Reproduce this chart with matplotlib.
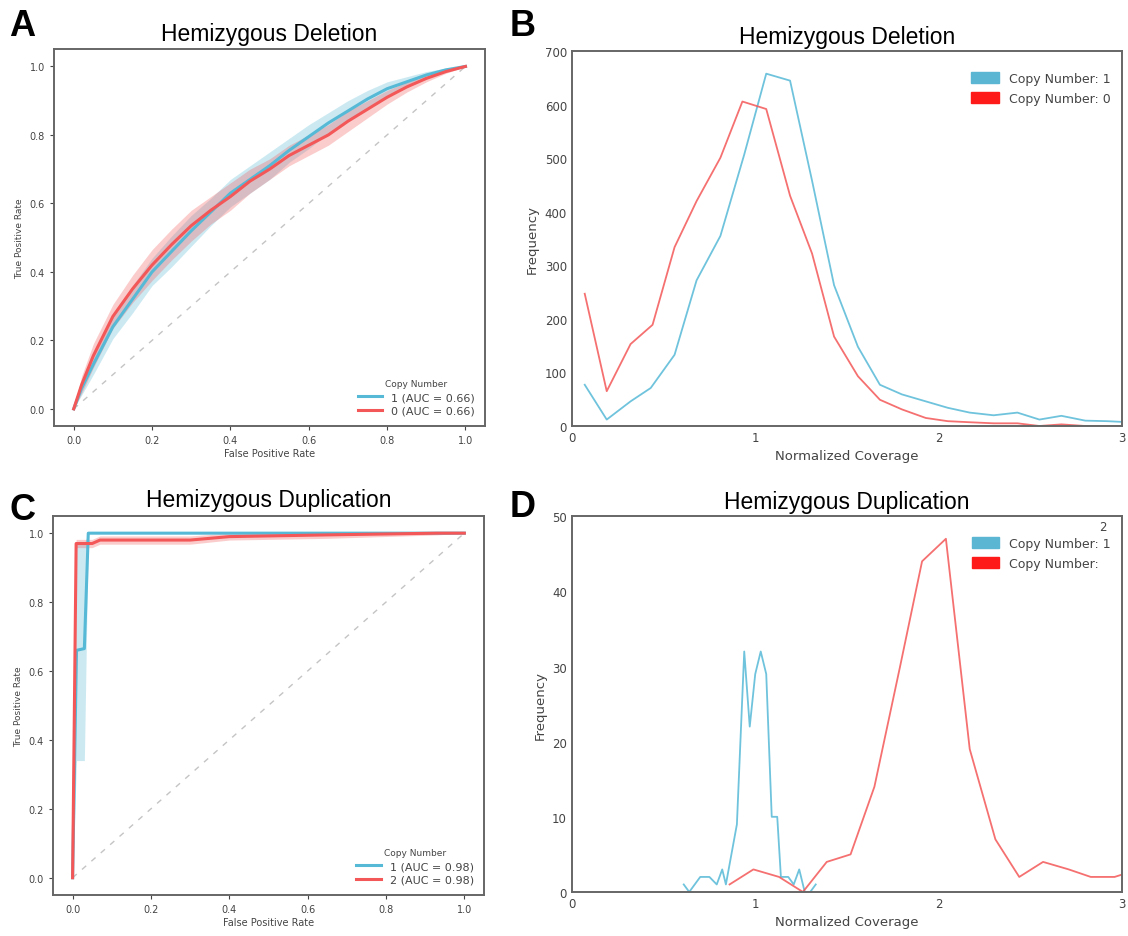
import matplotlib
matplotlib.use("Agg")
import matplotlib.pyplot as plt
from matplotlib.patches import Patch
import numpy as np

# ---- data ----
# Panel A: mean ROC curves (hemizygous deletion)
roc_a_fpr = [0, 0.02, 0.05, 0.1, 0.15, 0.2, 0.25, 0.3, 0.35, 0.4, 0.45, 0.5,
             0.55, 0.6, 0.65, 0.7, 0.75, 0.8, 0.85, 0.9, 0.95, 1.0]
roc_a_cn1 = [0, 0.06, 0.13, 0.24, 0.32, 0.40, 0.46, 0.52, 0.575, 0.63, 0.67, 0.71,
             0.755, 0.795, 0.835, 0.87, 0.905, 0.935, 0.955, 0.975, 0.99, 1.0]
roc_a_cn1_sd = [0, 0.02, 0.03, 0.035, 0.04, 0.04, 0.045, 0.045, 0.04, 0.04, 0.04,
                0.04, 0.035, 0.035, 0.03, 0.03, 0.025, 0.02, 0.015, 0.01, 0.005, 0]
roc_a_cn0 = [0, 0.07, 0.155, 0.27, 0.35, 0.42, 0.48, 0.535, 0.58, 0.62, 0.665, 0.70,
             0.74, 0.77, 0.80, 0.84, 0.875, 0.91, 0.94, 0.965, 0.985, 1.0]
roc_a_cn0_sd = [0, 0.025, 0.035, 0.035, 0.04, 0.045, 0.045, 0.045, 0.04, 0.04, 0.035,
                0.03, 0.03, 0.03, 0.03, 0.03, 0.025, 0.02, 0.015, 0.01, 0.005, 0]
auc_a = {"1": 0.66, "0": 0.66}

# Panel C: mean ROC curves (hemizygous duplication)
roc_c_cn1_fpr = [0, 0.01, 0.03, 0.04, 1.0]
roc_c_cn1 = [0, 0.66, 0.665, 1.0, 1.0]
roc_c_cn1_lo = [0, 0.34, 0.34, 1.0, 1.0]
roc_c_cn1_hi = [0, 0.97, 0.97, 1.0, 1.0]
roc_c_cn2_fpr = [0, 0.009, 0.05, 0.07, 0.3, 0.4, 0.65, 0.93, 1.0]
roc_c_cn2 = [0, 0.97, 0.97, 0.98, 0.98, 0.99, 0.995, 1.0, 1.0]
roc_c_cn2_sd = [0, 0.012, 0.012, 0.012, 0.012, 0.01, 0.01, 0.005, 0]
auc_c = {"1": 0.98, "2": 0.98}

# Panel B: coverage frequency (deletion)
cov_b_cn1_x = [0.07, 0.19, 0.32, 0.43, 0.56, 0.68, 0.81, 0.94, 1.06, 1.19, 1.31,
               1.43, 1.56, 1.68, 1.80, 1.93, 2.05, 2.17, 2.30, 2.43, 2.55, 2.67,
               2.80, 2.92, 3.04]
cov_b_cn1_y = [77, 12, 46, 71, 133, 272, 355, 507, 658, 645, 458, 263, 148, 77,
               59, 46, 34, 25, 20, 25, 12, 19, 10, 9, 7]
cov_b_cn0_x = [0.07, 0.19, 0.32, 0.44, 0.56, 0.68, 0.81, 0.93, 1.06, 1.19, 1.31,
               1.43, 1.56, 1.68, 1.80, 1.93, 2.05, 2.17, 2.30, 2.43, 2.55, 2.67,
               2.80, 2.92, 3.04]
cov_b_cn0_y = [247, 65, 153, 189, 334, 420, 501, 606, 592, 430, 322, 167, 93, 49,
               31, 15, 9, 7, 5, 5, 0, 3, 0, 0, 0]

# Panel D: coverage frequency (duplication)
cov_d_cn1_x = [0.61, 0.64, 0.70, 0.75, 0.79, 0.82, 0.84, 0.90, 0.94, 0.97, 1.00,
               1.03, 1.06, 1.09, 1.12, 1.14, 1.18, 1.21, 1.24, 1.27, 1.30, 1.33]
cov_d_cn1_y = [1, 0, 2, 2, 1, 3, 1, 9, 32, 22, 29, 32, 29, 10, 10, 2, 2, 1, 3, 0,
               0, 1]
cov_d_cn2_x = [0.86, 0.99, 1.13, 1.26, 1.39, 1.52, 1.65, 1.79, 1.91, 2.04, 2.17,
               2.31, 2.44, 2.57, 2.71, 2.83, 2.96, 3.09]
cov_d_cn2_y = [1, 3, 2, 0, 4, 5, 14, 30, 44, 47, 19, 7, 2, 4, 3, 2, 2, 3]

BLUE = "#56b9d6"
RED = "#f45757"
BLUE_PATCH = "#5ab6d2"
RED_PATCH = "#ff1a1a"
TITLE_FONT = "Liberation Sans"
SPINE = "#666666"
TICK = "#444444"


def style_axes(ax, tick_size, ticklen):
    for s in ax.spines.values():
        s.set_color(SPINE)
        s.set_linewidth(1.4)
    ax.tick_params(labelsize=tick_size, colors=TICK, length=ticklen,
                   width=0.8, top=False, right=False)
    for lab in ax.get_xticklabels() + ax.get_yticklabels():
        lab.set_color(TICK)


def roc_panel(ax, title, curves, legend_labels):
    ax.plot([0, 1], [0, 1], ls=(0, (4, 5)), color="#c4c4c4", lw=1.0)
    for fpr, mean, lo, hi, color in curves:
        ax.fill_between(fpr, lo, hi, color=color, alpha=0.3, lw=0)
    handles = []
    for fpr, mean, lo, hi, color in curves:
        h, = ax.plot(fpr, mean, color=color, lw=2.2)
        handles.append(h)
    ax.set_xlim(-0.05, 1.05)
    ax.set_ylim(-0.05, 1.05)
    ax.set_xticks(np.arange(0, 1.01, 0.2))
    ax.set_yticks(np.arange(0, 1.01, 0.2))
    ax.set_xlabel("False Positive Rate", fontsize=7, color=TICK, labelpad=2)
    ax.set_ylabel("True Positive Rate", fontsize=6.5, color=TICK, labelpad=4)
    ax.set_title(title, fontsize=16.5, family=TITLE_FONT, pad=7)
    leg = ax.legend(handles, legend_labels, loc="lower right", frameon=False,
                    fontsize=8, title="Copy Number", title_fontsize=6.5,
                    handlelength=2.2, labelspacing=0.35)
    for t in leg.get_texts():
        t.set_color(TICK)
    leg.get_title().set_color(TICK)
    style_axes(ax, 7, 3)


def freq_panel(ax, title, series, ymax, ystep, labels):
    for x, y, color in series:
        ax.plot(x, y, color=color, lw=1.3, alpha=0.85)
    ax.set_xlim(0, 3)
    ax.set_ylim(0, ymax)
    ax.set_xticks([0, 1, 2, 3])
    ax.set_yticks(np.arange(0, ymax + 1, ystep))
    ax.set_xlabel("Normalized Coverage", fontsize=9.5, color=TICK, labelpad=4)
    ax.set_ylabel("Frequency", fontsize=9.5, color=TICK, labelpad=4)
    ax.set_title(title, fontsize=16.5, family=TITLE_FONT, pad=6)
    handles = [Patch(color=BLUE_PATCH), Patch(color=RED_PATCH)]
    leg = ax.legend(handles, labels, loc="upper right",
                    bbox_to_anchor=(1.0, 0.975), frameon=False,
                    fontsize=9, handlelength=2.2, handleheight=0.9,
                    labelspacing=0.55)
    for t in leg.get_texts():
        t.set_color(TICK)
    style_axes(ax, 8.5, 0)
    return leg


fig = plt.figure(figsize=(11.28, 9.37), dpi=100)

axA = fig.add_axes([0.048, 0.5443, 0.382, 0.402])
axB = fig.add_axes([0.507, 0.5443, 0.4876, 0.400])
axC = fig.add_axes([0.047, 0.0438, 0.382, 0.4045])
axD = fig.add_axes([0.507, 0.047, 0.4876, 0.401])

a_cn1 = np.array(roc_a_cn1)
a_cn0 = np.array(roc_a_cn0)
roc_panel(
    axA, "Hemizygous Deletion",
    [(roc_a_fpr, a_cn1, a_cn1 - np.array(roc_a_cn1_sd),
      np.minimum(a_cn1 + np.array(roc_a_cn1_sd), 1), BLUE),
     (roc_a_fpr, a_cn0, a_cn0 - np.array(roc_a_cn0_sd),
      np.minimum(a_cn0 + np.array(roc_a_cn0_sd), 1), RED)],
    [f"1 (AUC = {auc_a['1']:.2f})", f"0 (AUC = {auc_a['0']:.2f})"],
)

c_cn2 = np.array(roc_c_cn2)
roc_panel(
    axC, "Hemizygous Duplication",
    [(roc_c_cn1_fpr, roc_c_cn1, roc_c_cn1_lo, roc_c_cn1_hi, BLUE),
     (roc_c_cn2_fpr, c_cn2, c_cn2 - np.array(roc_c_cn2_sd),
      np.minimum(c_cn2 + np.array(roc_c_cn2_sd), 1), RED)],
    [f"1 (AUC = {auc_c['1']:.2f})", f"2 (AUC = {auc_c['2']:.2f})"],
)

freq_panel(axB, "Hemizygous Deletion",
           [(cov_b_cn1_x, cov_b_cn1_y, BLUE), (cov_b_cn0_x, cov_b_cn0_y, RED)],
           700, 100, ["Copy Number: 1", "Copy Number: 0"])

freq_panel(axD, "Hemizygous Duplication",
           [(cov_d_cn1_x, cov_d_cn1_y, BLUE), (cov_d_cn2_x, cov_d_cn2_y, RED)],
           50, 10, ["Copy Number: 1", "Copy Number:"])
# stray "2" rendered above the first legend label in the original
fig.text(0.978, 0.4375, "2", fontsize=8.5, color=TICK, ha="center", va="center")

for letter, x, y in [("A", 0.008, 0.972), ("B", 0.452, 0.972),
                     ("C", 0.008, 0.455), ("D", 0.452, 0.458)]:
    fig.text(x, y, letter, fontsize=26, fontweight="bold", family=TITLE_FONT,
             ha="left", va="center")

fig.savefig("out.png", dpi=100)
